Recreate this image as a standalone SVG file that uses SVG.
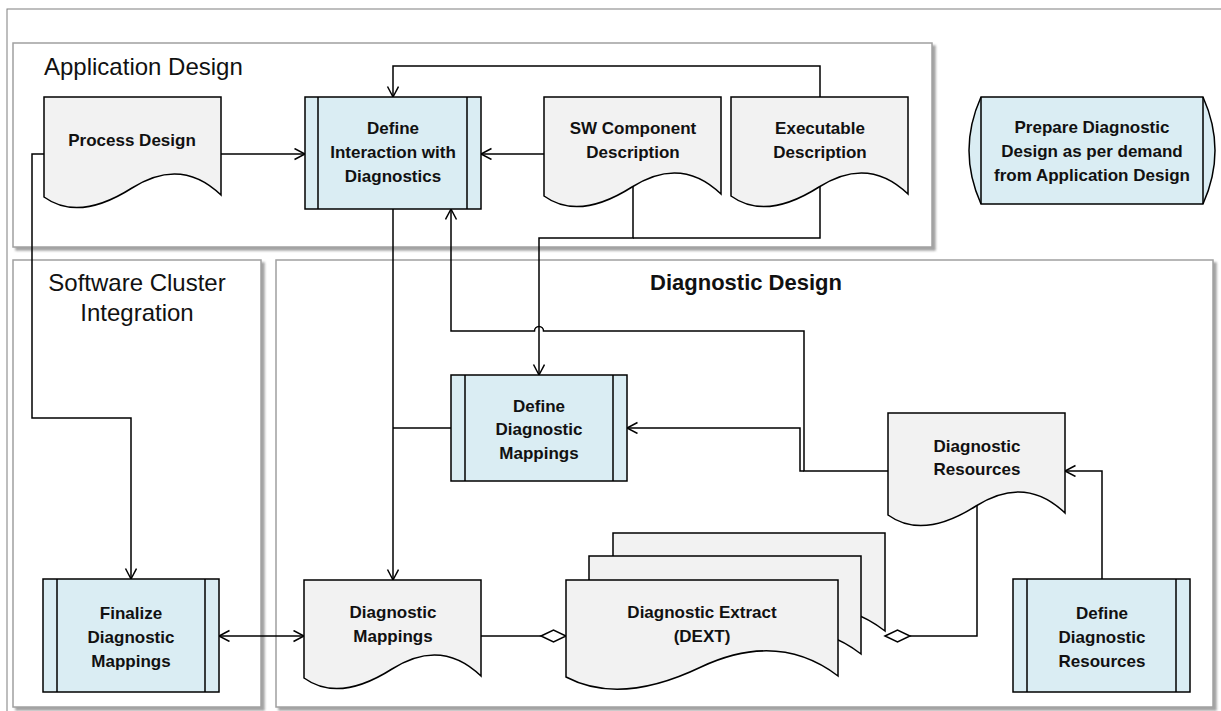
<svg xmlns="http://www.w3.org/2000/svg" width="1221" height="711" viewBox="0 0 1221 711">
<defs>
<style>
.ctr{fill:#fff;stroke:#a0a0a0;stroke-width:1.5;filter:url(#sh)}
.proc{fill:#daedf3;stroke:#000;stroke-width:1.5}
.doc{fill:#f2f2f2;stroke:#000;stroke-width:1.5}
.ln{fill:none;stroke:#000;stroke-width:1.5}
.cn{fill:none;stroke:#000;stroke-width:1.5}
.arr{marker-end:url(#ah)}
.t{font-family:"Liberation Sans",Arial,sans-serif;font-weight:bold;font-size:17px;text-anchor:middle;fill:#111}
.lbl{font-family:"Liberation Sans",Arial,sans-serif;font-size:24px;fill:#111}
.dia{fill:#fff;stroke:#000;stroke-width:1.5}
</style>
<filter id="sh" x="-5%" y="-5%" width="110%" height="110%">
<feDropShadow dx="3" dy="3" stdDeviation="1.2" flood-color="#666" flood-opacity="0.6"/>
</filter>
<marker id="ah" markerUnits="userSpaceOnUse" markerWidth="14" markerHeight="14" refX="11" refY="6" orient="auto-start-reverse">
<path d="M0.5,0.5 L11,6 L0.5,11.5" fill="none" stroke="#000" stroke-width="1.5"/>
</marker>
</defs>
<rect width="1221" height="711" fill="#fff"/>
<rect x="7" y="9" width="1240" height="730" fill="none" stroke="#7f7f7f" stroke-width="1"/>

<g id="containers">
<g id="app-design">
<rect class="ctr" x="13" y="43" width="919" height="204"/>
<text class="lbl" x="44" y="75">Application Design</text>
</g>
<g id="sw-cluster">
<rect class="ctr" x="13" y="260" width="248" height="447"/>
<text class="lbl" x="137" y="291" text-anchor="middle">Software Cluster</text>
<text class="lbl" x="137" y="321" text-anchor="middle">Integration</text>
</g>
<g id="diag-design">
<rect class="ctr" x="276" y="260" width="937" height="447"/>
<text class="t" x="746" y="290" style="font-size:22px">Diagnostic Design</text>
</g>
</g>

<g id="connectors">
<path class="cn arr" d="M221,154 H305"/>
<path class="cn arr" d="M44,154 H32 V418 H131 V579"/>
<path class="cn arr" d="M820,100 V66 H393 V97"/>
<path class="cn arr" d="M544,154 H481"/>
<path class="cn arr" d="M633,185 V238 H539 V375"/>
<path class="cn" d="M820,185 V238 H633"/>
<path class="cn arr" d="M393,209 V580"/>
<path class="cn" d="M393,428 H451"/>
<path class="cn arr" d="M888,471 H804 V331 H543.5 A4.5,4.5 0 0 0 534.5,331 H451 V209"/>
<path class="cn arr" d="M804,471 H800 V428 H627"/>
<path class="cn arr" d="M219,636 H304" marker-start="url(#ah)"/>
<path class="cn" d="M481,636 H541"/>
<polygon class="dia" points="541,636 553.5,630 566,636 553.5,642"/>
<path class="cn" d="M910,636 H977 V505"/>
<polygon class="dia" points="885,636 897.5,630 910,636 897.5,642"/>
<path class="cn arr" d="M1102,579 V471 H1065"/>
</g>

<g id="process-design">
<path class="doc" d="M44,97 V197 c25,18 55,12 88,-9 c33,-21 62,-19 89,7 V97 Z"/>
<text class="t" x="132" y="146">Process Design</text>
</g>

<g id="define-interaction">
<rect class="proc" x="305" y="97" width="176" height="112"/>
<path class="ln" d="M318,97 V209 M467,97 V209"/>
<text class="t" x="393" y="134">Define</text>
<text class="t" x="393" y="158">Interaction with</text>
<text class="t" x="393" y="182">Diagnostics</text>
</g>

<g id="sw-component">
<path class="doc" d="M544,97 V196 c25,18 55,12 88,-9 c33,-21 62,-19 89,7 V97 Z"/>
<text class="t" x="633" y="134">SW Component</text>
<text class="t" x="633" y="158">Description</text>
</g>

<g id="executable">
<path class="doc" d="M731,97 V196 c25,18 55,12 88,-9 c33,-21 62,-19 89,7 V97 Z"/>
<text class="t" x="820" y="134">Executable</text>
<text class="t" x="820" y="158">Description</text>
</g>

<g id="prepare">
<path class="proc" d="M981,97 H1203 Q1227,150.5 1203,204 H981 Q957,150.5 981,97 Z"/>
<path class="ln" d="M981,97 V204 M1203,97 V204"/>
<text class="t" x="1092" y="133">Prepare Diagnostic</text>
<text class="t" x="1092" y="157">Design as per demand</text>
<text class="t" x="1092" y="181">from Application Design</text>
</g>

<g id="define-diag-mappings">
<rect class="proc" x="451" y="375" width="176" height="106"/>
<path class="ln" d="M465,375 V481 M613,375 V481"/>
<text class="t" x="539" y="412">Define</text>
<text class="t" x="539" y="435">Diagnostic</text>
<text class="t" x="539" y="459">Mappings</text>
</g>

<g id="diag-resources">
<path class="doc" d="M888,413 V515 c25,18 55,12 88,-9 c33,-21 62,-19 89,7 V413 Z"/>
<text class="t" x="977" y="452">Diagnostic</text>
<text class="t" x="977" y="475">Resources</text>
</g>

<g id="finalize">
<rect class="proc" x="43" y="579" width="176" height="113"/>
<path class="ln" d="M57,579 V692 M205,579 V692"/>
<text class="t" x="131" y="619">Finalize</text>
<text class="t" x="131" y="643">Diagnostic</text>
<text class="t" x="131" y="667">Mappings</text>
</g>

<g id="diag-mappings">
<path class="doc" d="M304,580 V678 c25,18 55,12 88,-9 c33,-21 62,-19 89,7 V580 Z"/>
<text class="t" x="393" y="618">Diagnostic</text>
<text class="t" x="393" y="642">Mappings</text>
</g>

<g id="dext">
<path class="doc" d="M613,533 V632 c38,20 85,14 135,-10 c51,-24 96,-22 137,9 V533 Z"/>
<path class="doc" d="M589,556 V655 c38,20 85,14 135,-10 c51,-24 96,-22 137,9 V556 Z"/>
<path class="doc" d="M566,580 V677 c38,20 85,14 135,-10 c51,-24 96,-22 137,9 V580 Z"/>
<text class="t" x="702" y="618">Diagnostic Extract</text>
<text class="t" x="702" y="642">(DEXT)</text>
</g>

<g id="define-diag-resources">
<rect class="proc" x="1013" y="579" width="177" height="113"/>
<path class="ln" d="M1027,579 V692 M1176,579 V692"/>
<text class="t" x="1102" y="619">Define</text>
<text class="t" x="1102" y="643">Diagnostic</text>
<text class="t" x="1102" y="667">Resources</text>
</g>
</svg>
